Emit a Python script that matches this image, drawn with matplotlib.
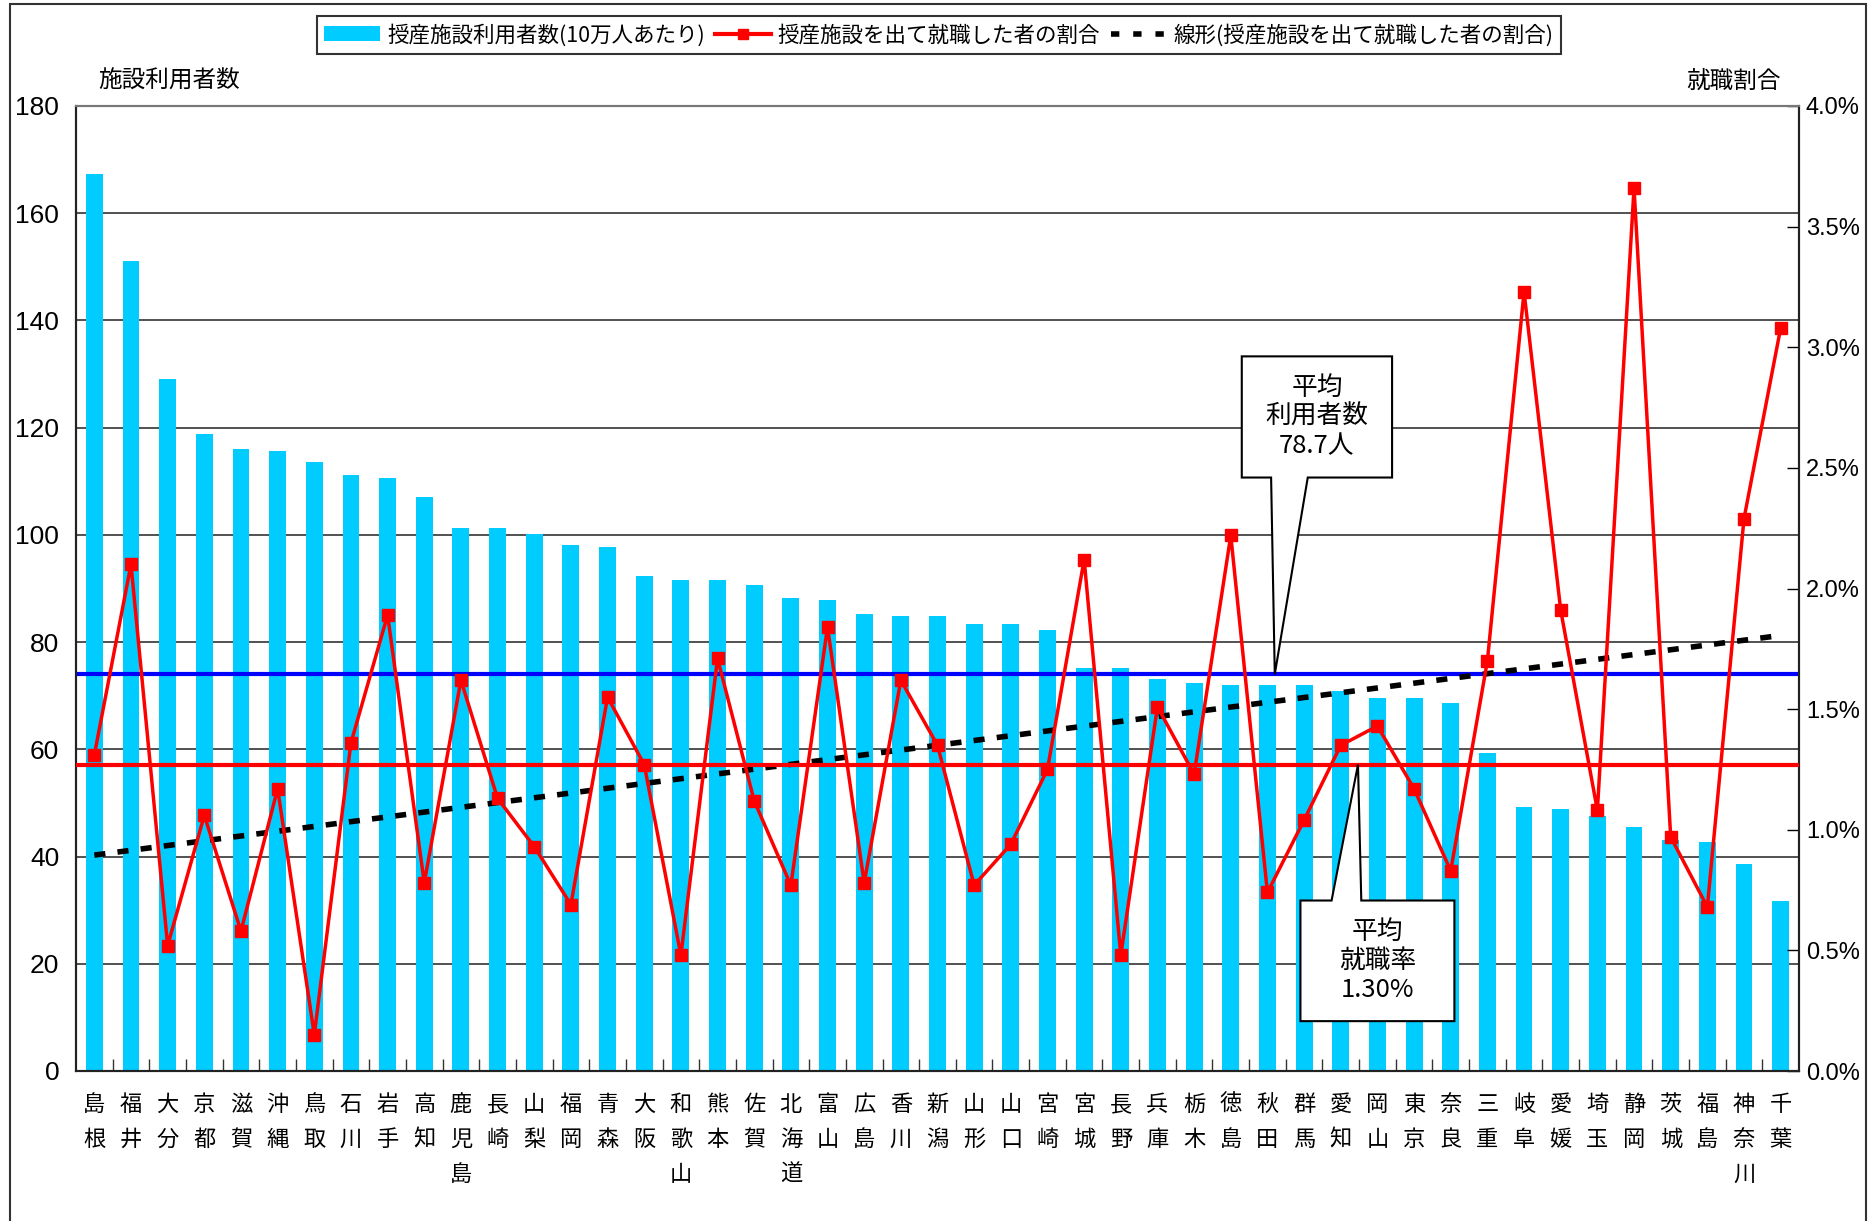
import numpy as np
import matplotlib
matplotlib.use("Agg")
import matplotlib.pyplot as plt
from matplotlib.patches import Polygon, Rectangle, Patch
from matplotlib.lines import Line2D
from matplotlib.ticker import FuncFormatter

plt.rcParams['font.family'] = ['Noto Sans CJK JP', 'DejaVu Sans']

prefectures = ["島根", "福井", "大分", "京都", "滋賀", "沖縄", "鳥取", "石川", "岩手", "高知",
               "鹿児島", "長崎", "山梨", "福岡", "青森", "大阪", "和歌山", "熊本", "佐賀", "北海道",
               "富山", "広島", "香川", "新潟", "山形", "山口", "宮崎", "宮城", "長野", "兵庫",
               "栃木", "徳島", "秋田", "群馬", "愛知", "岡山", "東京", "奈良", "三重", "岐阜",
               "愛媛", "埼玉", "静岡", "茨城", "福島", "神奈川", "千葉"]

users = [167.3, 151.1, 129.1, 118.9, 116.0, 115.6, 113.6, 111.1, 110.7, 107.1,
         101.3, 101.3, 100.2, 98.2, 97.8, 92.4, 91.6, 91.6, 90.7, 88.2,
         87.8, 85.3, 84.9, 84.9, 83.3, 83.3, 82.2, 75.1, 75.1, 73.1,
         72.4, 72.0, 72.0, 72.0, 70.9, 69.6, 69.6, 68.7, 59.3, 49.3,
         48.9, 47.6, 45.6, 43.1, 42.7, 38.7, 31.8]

rate = [1.31, 2.10, 0.52, 1.06, 0.58, 1.17, 0.15, 1.36, 1.89, 0.78,
        1.62, 1.13, 0.93, 0.69, 1.55, 1.27, 0.48, 1.71, 1.12, 0.77,
        1.84, 0.78, 1.62, 1.35, 0.77, 0.94, 1.25, 2.12, 0.48, 1.51,
        1.23, 2.22, 0.74, 1.04, 1.35, 1.43, 1.17, 0.83, 1.70, 3.23,
        1.91, 1.08, 3.66, 0.97, 0.68, 2.29, 3.08]

avg_users_line = 74.0     # blue line position (left axis)
avg_rate_line = 1.27      # red line position (%)
avg_users_label = "平均\n利用者数\n78.7人"
avg_rate_label = "平均\n就職率\n1.30%"

left_ticks = list(range(0, 181, 20))
right_ticks = [0.0, 0.5, 1.0, 1.5, 2.0, 2.5, 3.0, 3.5, 4.0]

num_font = ['Liberation Sans Narrow', 'Liberation Sans', 'DejaVu Sans']

W, H = 1868, 1221
fig = plt.figure(figsize=(W / 100, H / 100), dpi=100)
ax = fig.add_axes([76 / W, 1 - 1071 / H, (1799 - 76) / W, (1071 - 106) / H])
ax2 = ax.twinx()

n = len(prefectures)
x = np.arange(n)

ax.set_axisbelow(True)
ax.bar(x, users, width=0.46, color='#00CCFF', zorder=2)
ax.axhline(avg_users_line, color='#0000FF', lw=3, zorder=3)
ax.set_xlim(-0.5, n - 0.5)
ax.set_ylim(0, 180)
ax.set_yticks(left_ticks)
ax.yaxis.grid(True, color='#333333', lw=1.2)
ax.tick_params(axis='y', length=0, pad=12, labelsize=19)
for lab in ax.get_yticklabels():
    lab.set_family(num_font)

ax.set_xticks(x)
ax.set_xticklabels(["\n".join(list(p)) for p in prefectures], fontsize=16,
                   linespacing=1.65, va='top')
ax.tick_params(axis='x', length=0, pad=16)
ax.set_xticks(np.arange(0.5, n - 1, 1), minor=True)
ax.tick_params(axis='x', which='minor', direction='in', length=9, width=1, color='#333333')

# rate series on right axis (in %)
ax2.set_ylim(0, 4.0)
ax2.set_yticks(right_ticks)
ax2.yaxis.set_major_formatter(FuncFormatter(lambda v, p: f"{v:.1f}%"))
ax2.tick_params(axis='y', direction='in', length=9, width=1, pad=5, labelsize=17)
for lab in ax2.get_yticklabels():
    lab.set_family(num_font)

coef = np.polyfit(x, rate, 1)
trend = np.polyval(coef, x)
ax2.plot(x, trend, color='black', lw=4, ls=(0, (2.0, 2.2)), zorder=3)
ax2.axhline(avg_rate_line, color='red', lw=3, zorder=4)
ax2.plot(x, rate, color='red', lw=2.5, marker='s', ms=8, mec='red', mfc='red', zorder=5)

for a in (ax, ax2):
    for s in a.spines.values():
        s.set_color('#222222')
        s.set_linewidth(1.5)
    a.spines['top'].set_color('#777777')

# callouts (in left-axis data coords)
def callout(pts, txt, cx, cy):
    poly = Polygon(pts, closed=True, facecolor='white', edgecolor='black', lw=1.5,
                   transform=ax.transData, zorder=10)
    ax2.add_patch(poly)
    ax2.text(cx, cy, txt, transform=ax.transData, ha='center', va='center',
             fontsize=18.5, linespacing=1.15, zorder=11)

x0, x1, yt, yb = 31.3, 35.4, 133.3, 110.7
callout([(x0, yt), (x1, yt), (x1, yb), (33.1, yb), (32.2, avg_users_line), (32.1, yb), (x0, yb)],
        avg_users_label, (x0 + x1) / 2, (yt + yb) / 2)
x0, x1, yt, yb = 32.9, 37.1, 31.8, 9.3
callout([(x0, yt), (33.75, yt), (34.47, avg_rate_line * 45), (34.56, yt), (x1, yt), (x1, yb), (x0, yb)],
        avg_rate_label, (x0 + x1) / 2, (yt + yb) / 2)

# axis titles
fig.text(169 / W, 1 - 81 / H, "施設利用者数", ha='center', va='center', fontsize=17)
fig.text(1733 / W, 1 - 81 / H, "就職割合", ha='center', va='center', fontsize=17)

# legend
handles = [Patch(facecolor='#00CCFF', edgecolor='none'),
           Line2D([], [], color='red', lw=3, marker='s', ms=7),
           Line2D([], [], color='black', lw=4, ls=(0, (1.5, 2.5)))]
labels = ["授産施設利用者数(10万人あたり)", "授産施設を出て就職した者の割合",
          "線形(授産施設を出て就職した者の割合)"]
leg = fig.legend(handles, labels, loc='center', bbox_to_anchor=(939 / W, 1 - 35 / H),
                 ncol=3, fontsize=15.5, frameon=True, fancybox=False, handlelength=2.6,
                 handletextpad=0.3, columnspacing=0.5, borderpad=0.35)
leg.get_frame().set_edgecolor('black')
leg.get_frame().set_linewidth(1.5)

# outer border
fig.patches.append(Rectangle((10 / W, -0.05), (1866 - 10) / W, 1.05 - 4 / H, transform=fig.transFigure,
                             fill=False, edgecolor='#333333', lw=1.5))

fig.savefig("out.png", dpi=100)
